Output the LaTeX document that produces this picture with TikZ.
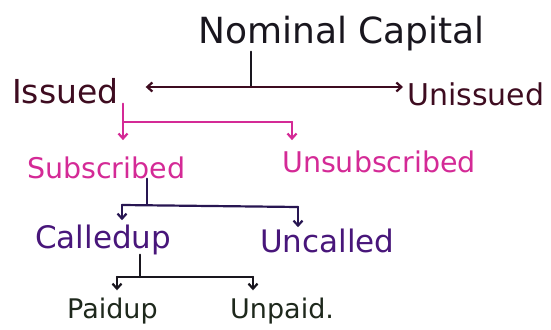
\documentclass[tikz,border=0pt]{standalone}
\usepackage{fontspec}
\setmainfont{DejaVu Sans}
\usetikzlibrary{arrows.meta}
\definecolor{inkblack}{RGB}{25,22,30}
\definecolor{inkmaroon}{RGB}{62,12,32}
\definecolor{inkpink}{RGB}{212,42,150}
\definecolor{inkviolet}{RGB}{72,22,122}
\definecolor{inknavy}{RGB}{40,22,82}
\definecolor{inkgreen}{RGB}{30,40,28}

\begin{document}
\begin{tikzpicture}[x=1pt,y=-1pt,
    lbl/.style={font=\fontsize{#1}{#1}\selectfont, inner sep=0pt, anchor=base west},
    pen/.style={line width=2.2pt, line cap=round, line join=round},
    tip/.style={pen, -{Straight Barb[length=5pt,width=9pt]}, shorten >=#1}]
    \useasboundingbox (0,0) rectangle (551,329);
    \node[lbl=36, text=inkblack] (nominal) at (198,44) {Nominal Capital};
    \node[lbl=33, text=inkmaroon] (issued) at (12,103) {Issued};
    \node[lbl=30, text=inkmaroon] (unissued) at (407,105) {Unissued};
    \node[lbl=28.5, text=inkpink] (subscribed) at (27,178) {Subscribed};
    \node[lbl=28.5, text=inkpink] (unsubscribed) at (282,172) {Unsubscribed};
    \node[lbl=31, text=inkviolet] (calledup) at (35,248) {Calledup};
    \node[lbl=31, text=inkviolet] (uncalled) at (260,252) {Uncalled};
    \node[lbl=27, text=inkgreen] (paidup) at (67,318) {Paidup};
    \node[lbl=27, text=inkgreen] (unpaid) at (230,318) {Unpaid.};
    \coordinate (cap) at (251,87);
    \draw[pen, inkblack] (cap |- nominal.south) -- (cap);
    \draw[tip=27pt, inkmaroon] (cap) -- (cap -| issued.east);
    \draw[tip=4pt, inkmaroon] (cap) -- (cap -| unissued.west);
    \coordinate (iss) at (123,122);
    \coordinate (uns) at (292,122);
    \draw[pen, inkpink] (iss |- issued.south) -- (iss) -- (uns);
    \draw[tip=16pt, inkpink] (iss) -- (iss |- subscribed.north);
    \draw[tip=10pt, inkpink] (uns) -- (uns |- unsubscribed.north);
    \coordinate (sub) at (147,205);
    \coordinate (cld) at (122,205);
    \coordinate (unc) at (298,207);
    \draw[pen, inknavy] (sub |- subscribed.south) -- (sub);
    \draw[pen, inknavy] (cld) -- (unc);
    \draw[tip=4pt, inknavy] (cld) -- (cld |- calledup.north);
    \draw[tip=1pt, inknavy] (unc) -- (unc |- uncalled.north);
    \coordinate (cu) at (140,277);
    \coordinate (pd) at (117,277);
    \coordinate (up) at (253,277);
    \draw[pen, inkblack] (cu |- calledup.south) -- (cu);
    \draw[pen, inkblack] (pd) -- (up);
    \draw[tip=7pt, inkblack] (pd) -- (pd |- paidup.north);
    \draw[tip=7pt, inkblack] (up) -- (up |- unpaid.north);
\end{tikzpicture}
\end{document}
